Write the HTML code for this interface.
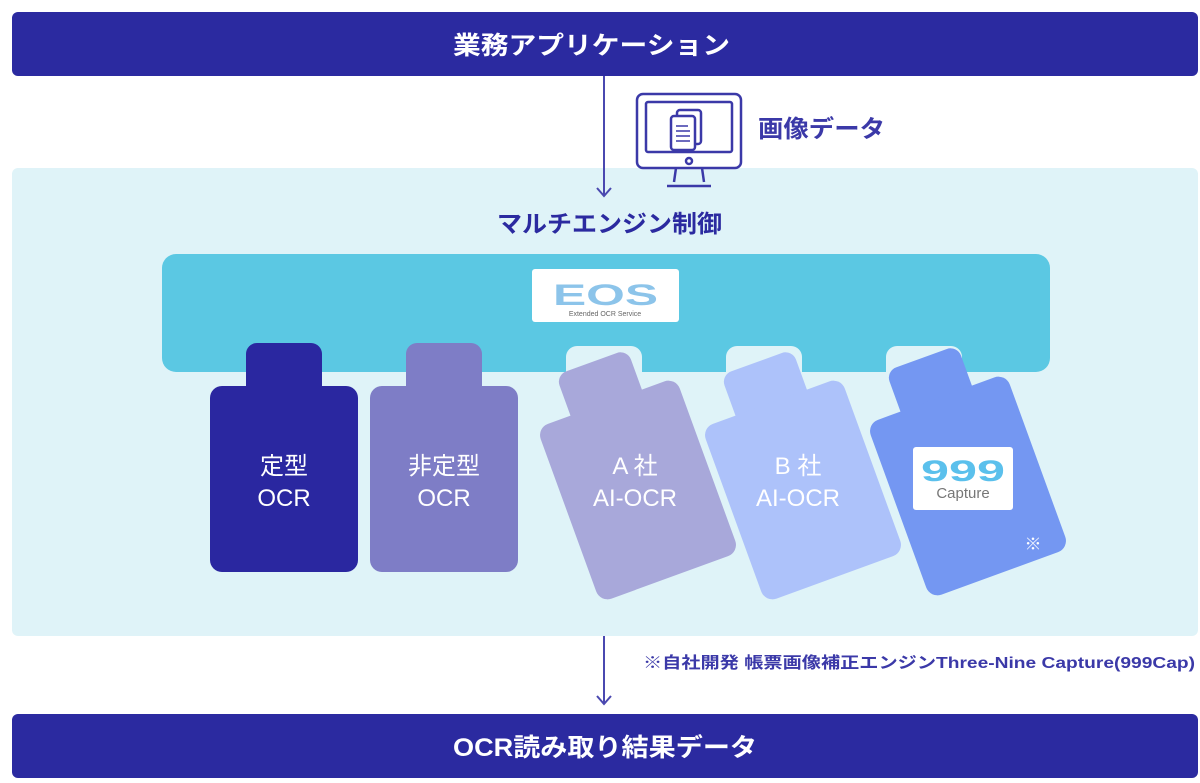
<!DOCTYPE html>
<html><head><meta charset="utf-8"><style>
html,body{margin:0;padding:0;background:#fff;}
svg{display:block;}
text{font-family:"Liberation Sans","Noto Sans CJK JP",sans-serif;}
</style></head><body>
<svg width="1200" height="783" viewBox="0 0 1200 783" xmlns="http://www.w3.org/2000/svg">
<defs>
<g id="card">
  <rect x="-38" y="-136" width="76" height="56" rx="11"/>
  <rect x="-74" y="-93" width="148" height="186" rx="12"/>
</g>
</defs>
<rect x="12" y="12" width="1186" height="64" rx="6" fill="#2b2aa0"/>
<text x="453" y="54" font-size="25" font-weight="bold" fill="#fff" textLength="277" lengthAdjust="spacingAndGlyphs">業務アプリケーション</text>
<rect x="12" y="168" width="1186" height="468" rx="6" fill="#dff3f8"/>
<line x1="604" y1="76" x2="604" y2="196" stroke="#4a48b0" stroke-width="2"/>
<polyline points="597,188 604,196 611,188" fill="none" stroke="#4a48b0" stroke-width="2"/>
<g fill="none" stroke="#3b39a8" stroke-width="2.5">
<rect x="637" y="94" width="104" height="74" rx="6"/>
<rect x="646" y="102" width="86" height="50" rx="2"/>
<circle cx="689" cy="161" r="3"/>
<path d="M676 168 L674 182 M702 168 L704 182"/>
<line x1="667" y1="186" x2="711" y2="186"/>
<rect x="677" y="110" width="24" height="34" rx="3" fill="#fff"/>
<rect x="671" y="116" width="24" height="34" rx="3" fill="#fff"/>
<path d="M676 126h12M676 131h14M676 136h14M676 141h14" stroke-width="1.5"/>
</g>
<text x="758" y="137" font-size="24" font-weight="bold" fill="#3b39a8" textLength="127" lengthAdjust="spacingAndGlyphs">画像データ</text>
<text x="497" y="232" font-size="24" font-weight="bold" fill="#2b2aa0" textLength="225" lengthAdjust="spacingAndGlyphs">マルチエンジン制御</text>
<rect x="162" y="254" width="888" height="118" rx="14" fill="#5bc8e3"/>
<rect x="566" y="346" width="76" height="40" rx="11" fill="#dff3f8"/>
<rect x="726" y="346" width="76" height="40" rx="11" fill="#dff3f8"/>
<rect x="886" y="346" width="76" height="40" rx="11" fill="#dff3f8"/>
<rect x="532" y="269" width="147" height="53" rx="3" fill="#fff"/>
<text x="553" y="305" font-size="30" font-weight="bold" fill="#8cc4ea" textLength="105" lengthAdjust="spacingAndGlyphs">EOS</text>
<text x="605" y="316" font-size="7" fill="#666" text-anchor="middle">Extended OCR Service</text>
<use href="#card" x="284" y="479" fill="#2a27a0"/>
<use href="#card" x="444" y="479" fill="#7e7dc6"/>
<g fill="#fff" font-size="24" text-anchor="middle">
<text x="284" y="474">定型</text><text x="284" y="506">OCR</text>
<text x="444" y="474">非定型</text><text x="444" y="506">OCR</text>
</g>
<g transform="translate(638,490) rotate(-20)" fill="#a8a8da"><use href="#card"/></g>
<g transform="translate(803,490) rotate(-20)" fill="#adc2fa"><use href="#card"/></g>
<g transform="translate(968,486) rotate(-20)" fill="#7497f2"><use href="#card"/></g>
<g fill="#fff" font-size="24" text-anchor="middle">
<text x="635" y="474">A 社</text><text x="635" y="506">AI-OCR</text>
<text x="798" y="474">B 社</text><text x="798" y="506">AI-OCR</text>
</g>
<rect x="913" y="447" width="100" height="63" rx="3" fill="#fff"/>
<text x="963" y="481" font-size="30" font-weight="bold" fill="#5bc0ec" text-anchor="middle" textLength="84" lengthAdjust="spacingAndGlyphs">999</text>
<text x="963" y="498" font-size="15" fill="#777" text-anchor="middle">Capture</text>
<text x="1033" y="550" font-size="17" fill="#fff" text-anchor="middle">※</text>
<line x1="604" y1="636" x2="604" y2="704" stroke="#4a48b0" stroke-width="2"/>
<polyline points="597,696 604,704 611,696" fill="none" stroke="#4a48b0" stroke-width="2"/>
<text x="643" y="668" font-size="16" font-weight="bold" fill="#3b39a8" textLength="552" lengthAdjust="spacingAndGlyphs">※自社開発 帳票画像補正エンジンThree-Nine Capture(999Cap)</text>
<rect x="12" y="714" width="1186" height="64" rx="6" fill="#2b2aa0"/>
<text x="453" y="756" font-size="25" font-weight="bold" fill="#fff" textLength="304" lengthAdjust="spacingAndGlyphs">OCR読み取り結果データ</text>
</svg>
</body></html>
